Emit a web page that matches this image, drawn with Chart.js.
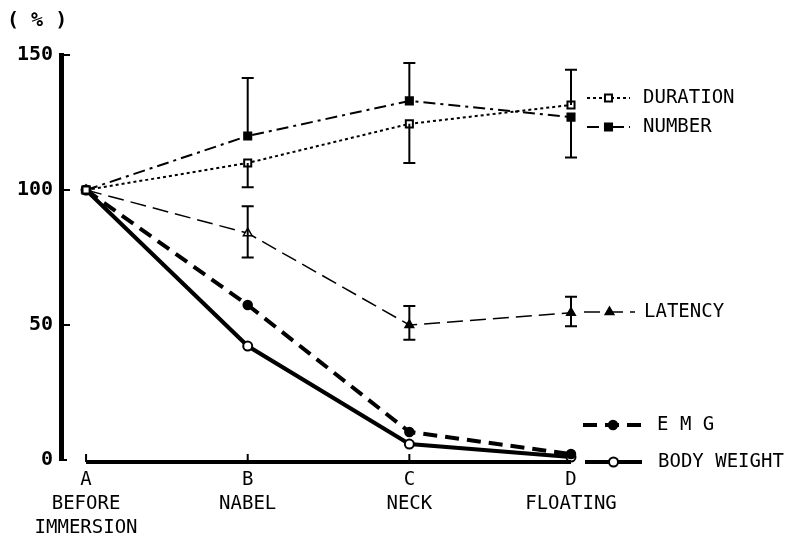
<!DOCTYPE html>
<html>
<head>
<meta charset="utf-8">
<script src="https://cdn.jsdelivr.net/npm/chart.js@4.4.1/dist/chart.umd.min.js"></script>
<style>
  html, body { margin: 0; padding: 0; background: #fff; }
  canvas { display: block; }
</style>
</head>
<body>
<canvas id="chart" width="788" height="540"></canvas>
<script>
// stages of immersion (x axis)
const stageLabels = [
  ['A', 'BEFORE', 'IMMERSION'],
  ['B', 'NABEL'],
  ['C', 'NECK'],
  ['D', 'FLOATING']
];
const yTicks = [0, 50, 100, 150];

// series values (% of before immersion)
const durationValues = [100, 110, 124.5, 131.5];
const durationLow    = [null, 101, 110, null];
const durationHigh   = [null, null, null, 144.5];

const numberValues = [100, 120, 133, 127];
const numberLow    = [null, null, null, 112];
const numberHigh   = [null, 141.5, 147, null];

const latencyValues = [100, 84, 50, 54.5];
const latencyLow    = [null, 75, 44.5, 49.5];
const latencyHigh   = [null, 94, 57, 60.5];

const emgValues = [100, 57.4, 10.4, 2.2];
const bodyWeightValues = [100, 42.2, 5.9, 1.1];

const FONT = '"DejaVu Sans Mono", "Liberation Mono", monospace';

function toPoints(values) {
  return values.map((v, i) => ({ x: i, y: v }));
}

// error bars drawn from the dataset's errLow / errHigh arrays
const errorBars = {
  id: 'errorBars',
  afterDatasetsDraw(chart) {
    const ctx = chart.ctx;
    const xs = chart.scales.x, ys = chart.scales.y;
    ctx.save();
    ctx.strokeStyle = '#000';
    ctx.lineWidth = 2;
    ctx.setLineDash([]);
    chart.data.datasets.forEach(ds => {
      if (!ds.errLow) return;
      ds.data.forEach((p, i) => {
        const lo = ds.errLow[i], hi = ds.errHigh[i];
        if (lo == null && hi == null) return;
        const x = xs.getPixelForValue(p.x);
        const y0 = ys.getPixelForValue(lo == null ? p.y : lo);
        const y1 = ys.getPixelForValue(hi == null ? p.y : hi);
        ctx.beginPath();
        ctx.moveTo(x, y0);
        ctx.lineTo(x, y1);
        if (lo != null) { ctx.moveTo(x - 6, y0); ctx.lineTo(x + 6, y0); }
        if (hi != null) { ctx.moveTo(x - 6, y1); ctx.lineTo(x + 6, y1); }
        ctx.stroke();
      });
    });
    ctx.restore();
  }
};

// axis lines, inward ticks, unit label and the hand-placed legend
const decorations = {
  id: 'decorations',
  afterDraw(chart) {
    const ctx = chart.ctx;
    const xs = chart.scales.x, ys = chart.scales.y;
    const area = chart.chartArea;
    ctx.save();
    ctx.strokeStyle = '#000';
    ctx.fillStyle = '#000';
    ctx.setLineDash([]);

    // y ticks pointing right
    ctx.lineWidth = 2;
    yTicks.forEach(t => {
      const y = ys.getPixelForValue(t);
      ctx.beginPath();
      ctx.moveTo(area.left, y);
      ctx.lineTo(area.left + (t === 0 ? 6 : 9), y);
      ctx.stroke();
    });

    // x axis line from A to D
    const xa = xs.getPixelForValue(0), xd = xs.getPixelForValue(stageLabels.length - 1);
    const yb = area.bottom + 2;
    ctx.lineWidth = 4;
    ctx.beginPath();
    ctx.moveTo(xa, yb);
    ctx.lineTo(xd, yb);
    ctx.stroke();
    ctx.lineWidth = 2;
    stageLabels.forEach((_, i) => {
      if (i === stageLabels.length - 1) return;
      const x = xs.getPixelForValue(i);
      ctx.beginPath();
      ctx.moveTo(x, yb);
      ctx.lineTo(x, yb - 8);
      ctx.stroke();
    });

    // unit
    ctx.font = 'bold 20px ' + FONT;
    ctx.textBaseline = 'middle';
    ctx.fillText('( % )', 7, 21);

    // legend
    const items = chart.options.plugins.decorations.items;
    ctx.font = '19px ' + FONT;
    items.forEach(it => {
      const ds = chart.data.datasets[it.dataset];
      ctx.strokeStyle = '#000';
      ctx.lineWidth = ds.borderWidth;
      ctx.setLineDash(ds.borderDash || []);
      ctx.beginPath();
      ctx.moveTo(it.x0, it.y);
      ctx.lineTo(it.x1, it.y);
      ctx.stroke();
      ctx.setLineDash([]);
      ctx.lineWidth = ds.pointBorderWidth;
      ctx.fillStyle = it.fill;
      Chart.helpers.drawPoint(ctx, {
        pointStyle: ds.pointStyle,
        radius: ds.pointRadius,
        rotation: 0,
        borderWidth: ds.pointBorderWidth
      }, (it.x0 + it.x1) / 2, it.y);
      ctx.fillStyle = '#000';
      ctx.fillText(it.text, it.tx, it.y);
    });
    ctx.restore();
  }
};

new Chart(document.getElementById('chart'), {
  type: 'line',
  data: {
    datasets: [
      {
        label: 'DURATION',
        data: toPoints(durationValues),
        errLow: durationLow, errHigh: durationHigh,
        borderColor: '#000', borderWidth: 2, borderDash: [3, 3],
        pointStyle: 'rect', pointRadius: 5, pointBorderWidth: 2,
        pointBackgroundColor: '#fff', pointBorderColor: '#000'
      },
      {
        label: 'NUMBER',
        data: toPoints(numberValues),
        errLow: numberLow, errHigh: numberHigh,
        borderColor: '#000', borderWidth: 2, borderDash: [12, 5, 3, 5],
        pointStyle: 'rect', pointRadius: 5, pointBorderWidth: 2,
        pointBackgroundColor: '#000', pointBorderColor: '#000'
      },
      {
        label: 'LATENCY',
        data: toPoints(latencyValues),
        errLow: latencyLow, errHigh: latencyHigh,
        borderColor: '#000', borderWidth: 1.5, borderDash: [16, 7],
        pointStyle: 'triangle', pointRadius: 5, pointBorderWidth: 1.5,
        pointBackgroundColor: ['#000', '#fff', '#000', '#000'], pointBorderColor: '#000'
      },
      {
        label: 'E M G',
        data: toPoints(emgValues),
        borderColor: '#000', borderWidth: 4, borderDash: [14, 8],
        pointStyle: 'circle', pointRadius: 4.5, pointBorderWidth: 1.5,
        pointBackgroundColor: '#000', pointBorderColor: '#000'
      },
      {
        label: 'BODY WEIGHT',
        data: toPoints(bodyWeightValues),
        borderColor: '#000', borderWidth: 4,
        pointStyle: 'circle', pointRadius: 4.5, pointBorderWidth: 2,
        pointBackgroundColor: '#fff', pointBorderColor: '#000'
      }
    ]
  },
  options: {
    responsive: false,
    animation: false,
    devicePixelRatio: 1,
    layout: { padding: { top: 55, right: 217, bottom: 0, left: 0 } },
    datasets: { line: { clip: false, tension: 0, fill: false } },
    scales: {
      x: {
        type: 'linear',
        min: -0.155,
        max: 3,
        grid: { display: false, drawTicks: false },
        border: { display: false },
        afterFit: s => { s.height = 80; },
        afterBuildTicks: s => { s.ticks = stageLabels.map((_, i) => ({ value: i })); },
        ticks: {
          padding: 8,
          color: '#000',
          maxRotation: 0,
          autoSkip: false,
          font: { family: FONT, size: 19, lineHeight: 1.26 },
          callback: v => stageLabels[v]
        }
      },
      y: {
        min: 0,
        max: 150,
        grid: { display: false, drawTicks: false },
        border: { display: true, color: '#000', width: 5 },
        afterFit: s => { s.width = 61; },
        afterBuildTicks: s => { s.ticks = yTicks.map(v => ({ value: v })); },
        ticks: {
          padding: 8,
          color: '#000',
          font: { family: FONT, size: 20, weight: 'bold' }
        }
      }
    },
    plugins: {
      legend: { display: false },
      tooltip: { enabled: false },
      decorations: {
        items: [
          { dataset: 0, text: 'DURATION',    x0: 587, x1: 630, y: 98,  tx: 643, fill: '#fff' },
          { dataset: 1, text: 'NUMBER',      x0: 587, x1: 630, y: 127, tx: 643, fill: '#000' },
          { dataset: 2, text: 'LATENCY',     x0: 584, x1: 635, y: 312, tx: 644, fill: '#000' },
          { dataset: 3, text: 'E M G',       x0: 583, x1: 643, y: 425, tx: 657, fill: '#000' },
          { dataset: 4, text: 'BODY WEIGHT', x0: 585, x1: 642, y: 462, tx: 658, fill: '#fff' }
        ]
      }
    }
  },
  plugins: [errorBars, decorations]
});
</script>
</body>
</html>
